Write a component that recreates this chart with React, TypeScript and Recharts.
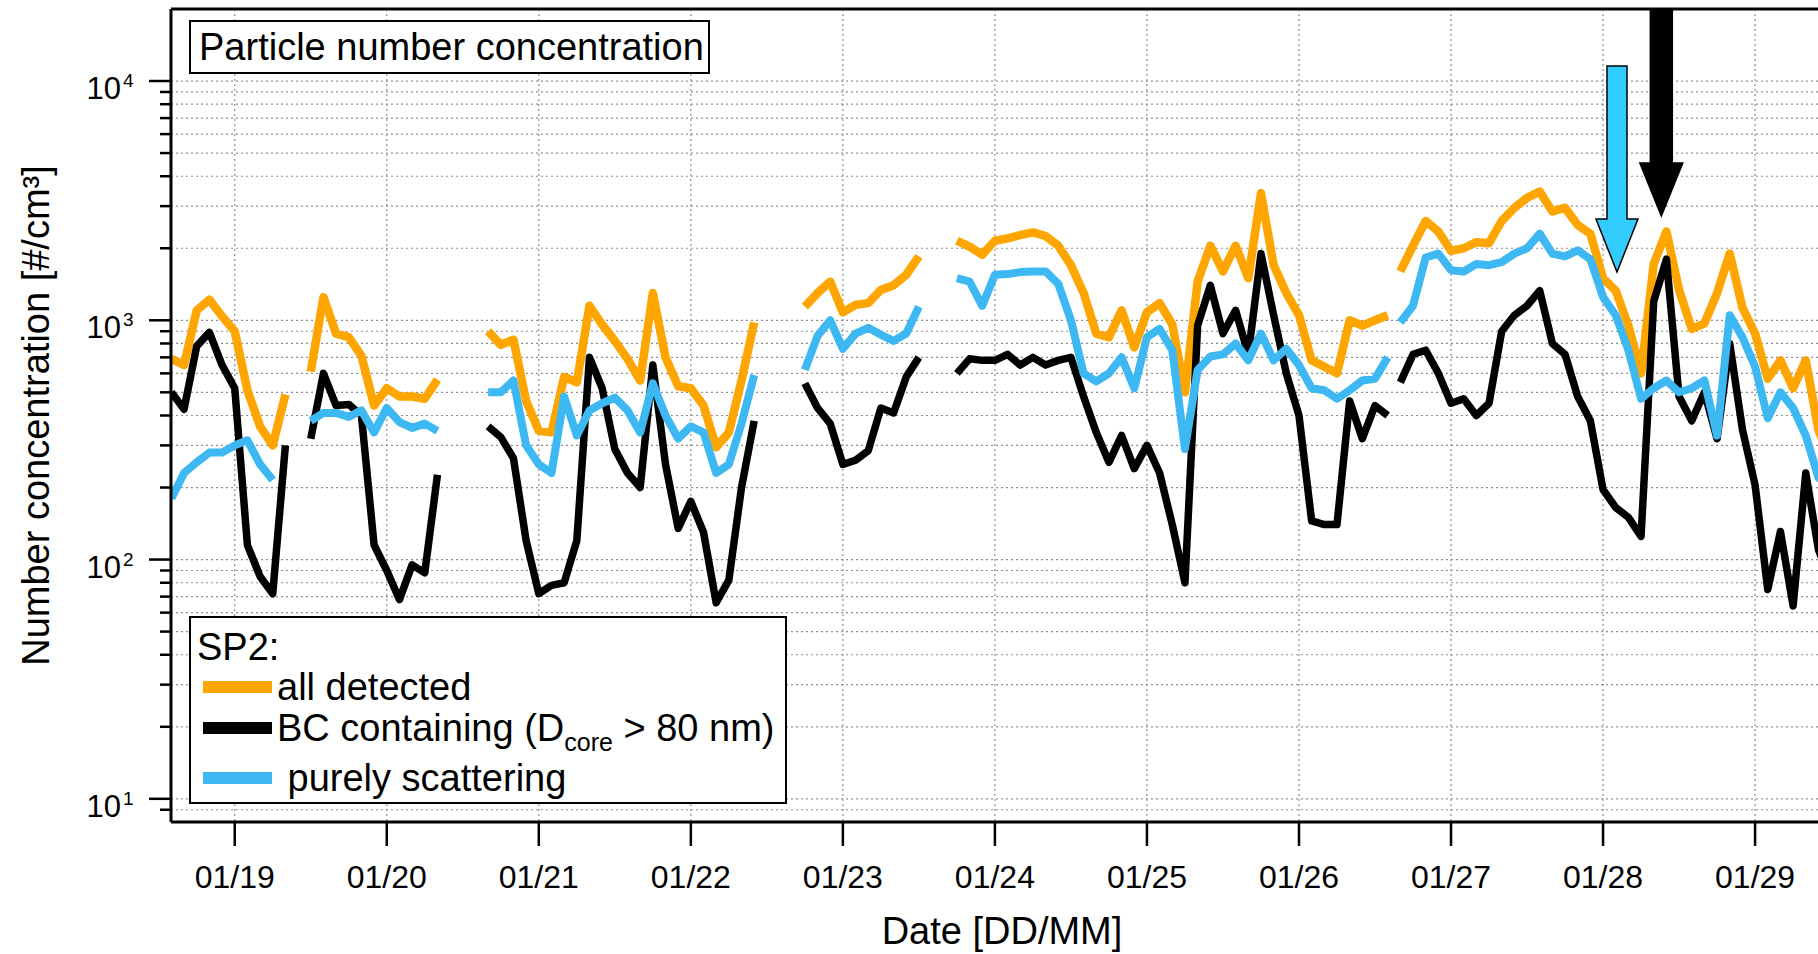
import { CartesianGrid, Line, LineChart, ReferenceDot, ReferenceLine, XAxis, YAxis } from "recharts";

const FONT = '"Liberation Sans", Arial, Helvetica, sans-serif';
const ORANGE = "#FFA500";
const BLACK = "#000000";
const BLUE = "#3DB8F2";
const ARROW_BLUE = "#33CCFF";

// hours since 18 Jan 00:00; a row of nulls marks each gap in the record
const HOURS = [
  14, 16, 18, 20, 22, 24, 26, 28, 30, 32, 34,
  36, 38, 40, 42, 44, 46, 48, 50, 52, 54, 56, 60,
  64, 66, 68, 70, 72, 74, 76, 78, 80, 82, 84, 86, 88, 90, 92, 94, 96, 98, 100, 102, 104, 106, 110,
  114, 116, 118, 120, 122, 124, 126, 128, 130, 132, 135,
  138, 140, 142, 144, 146, 148, 150, 152, 154, 156, 158, 160, 162, 164, 166, 168, 170, 172, 174, 176,
  178, 180, 182, 184, 186, 188, 190, 192, 194, 196, 198, 200, 202, 204, 206, 207,
  208, 210, 212, 214, 216, 218, 220, 222, 224, 226, 228, 230, 232, 234, 236, 238, 240, 242, 244, 246,
  248, 250, 252, 254, 256, 258, 260, 262, 264, 266, 268, 270, 272, 274, 276,
];

const ALL_DETECTED = [
  690, 650, 1100, 1220, 1040, 900, 510, 360, 300, 490, null,
  610, 1250, 880, 850, 710, 440, 520, 480, 480, 470, 565, null,
  900, 790, 830, 460, 345, 340, 580, 550, 1150, 960, 820, 690, 560, 1300, 700, 530, 520, 440, 295, 340, 560, 980, null,
  1140, 1300, 1450, 1080, 1160, 1180, 1340, 1400, 1550, 1850, null,
  2150, 2030, 1880, 2150, 2200, 2270, 2330, 2250, 2050, 1700, 1300, 880, 850, 1100, 770, 1080, 1180, 960, 500, 1450,
  2050, 1600, 2050, 1500, 3400, 1700, 1300, 1050, 680, 640, 600, 1000, 950, 1000, 1050, null,
  1600, 2050, 2600, 2350, 1950, 2000, 2120, 2100, 2600, 2950, 3250, 3450, 2850, 2950, 2500, 2300, 1500, 1330, 950, 600,
  1720, 2350, 1340, 920, 970, 1300, 1900, 1130, 880, 570, 680, 520, 680, 350, 250,
];

const BC_CONTAINING = [
  500, 425, 780, 890, 650, 520, 115, 85, 72, 300, null,
  320, 600, 440, 445, 400, 115, 90, 68, 95, 88, 226, null,
  360, 325, 265, 120, 72, 78, 80, 120, 700, 520, 290, 230, 200, 650, 250, 135, 175, 130, 66, 82, 200, 380, null,
  545, 430, 370, 250, 260, 285, 430, 410, 580, 700, null,
  600, 690, 680, 680, 720, 650, 700, 650, 680, 700, 480, 340, 255, 330, 240, 300, 230, 140, 80, 950,
  1400, 880, 1100, 720, 1900, 1050, 600, 400, 145, 140, 140, 460, 320, 440, 400, null,
  550, 720, 750, 600, 450, 470, 400, 450, 900, 1050, 1150, 1330, 800, 720, 480, 380, 196, 165, 150, 125,
  1200, 1800, 480, 380, 500, 320, 800, 350, 205, 75, 131, 64, 230, 110, 80,
];

const PURELY_SCATTERING = [
  180, 230, 255, 280, 280, 300, 315, 250, 215, null, null,
  380, 410, 410, 395, 420, 340, 430, 375, 355, 370, 345, null,
  500, 500, 560, 300, 250, 230, 480, 330, 420, 450, 475, 420, 340, 545, 400, 320, 360, 340, 230, 250, 370, 590, null,
  620, 860, 1000, 760, 880, 930, 870, 820, 880, 1140, null,
  1500, 1450, 1150, 1550, 1560, 1590, 1600, 1600, 1420, 1000, 600, 555, 600, 700, 520, 850, 920, 750, 290, 620,
  706, 720, 800, 680, 880, 680, 760, 650, 520, 510, 470, 510, 560, 570, 700, null,
  980, 1150, 1830, 1900, 1620, 1600, 1720, 1700, 1750, 1900, 2000, 2300, 1900, 1850, 1960, 1800, 1250, 1050, 750, 470,
  520, 560, 500, 520, 560, 330, 1050, 850, 640, 390, 500, 430, 330, 220, 200,
];

const DAY_TICKS = [24, 48, 72, 96, 120, 144, 168, 192, 216, 240, 264];
const Y_TICKS = [
  9, 10, 20, 30, 40, 50, 60, 70, 80, 90, 100, 200, 300, 400, 500, 600, 700, 800, 900,
  1000, 2000, 3000, 4000, 5000, 6000, 7000, 8000, 9000, 10000,
];

// arrow tips: [hour, concentration]
const BLUE_ARROW_TIP = [242.2, 1591];
const BLACK_ARROW_TIP = [249.2, 2728];

const rows = HOURS.map((h, i) => ({
  h,
  all: ALL_DETECTED[i],
  bc: BC_CONTAINING[i],
  scat: PURELY_SCATTERING[i],
}));

function YTick({ x, y, payload }: any) {
  const lg = Math.log10(payload.value);
  const exp = Math.round(lg);
  const major = Math.abs(lg - exp) < 1e-9;
  return (
    <g>
      <line x1={x - (major ? 22 : 11)} x2={x} y1={y} y2={y} stroke="#000" strokeWidth={2.5} />
      {major && (
        <>
          <text x={x - 50} y={y + 18} textAnchor="end" fontSize={31} fontFamily={FONT} fill="#000">
            10
          </text>
          <text x={x - 48} y={y + 6} fontSize={19} fontFamily={FONT} fill="#000">
            {exp}
          </text>
        </>
      )}
    </g>
  );
}

function XTick({ x, y, payload }: any) {
  const day = 18 + payload.value / 24;
  return (
    <g>
      <line x1={x} x2={x} y1={y} y2={y + 24} stroke="#000" strokeWidth={2.5} />
      <text x={x} y={y + 55} textAnchor="middle" dominantBaseline="central" fontSize={32} fontFamily={FONT} fill="#000">
        {`01/${day}`}
      </text>
    </g>
  );
}

function YTitle({ viewBox }: any) {
  const cx = viewBox.x + 36;
  const cy = viewBox.y + viewBox.height / 2;
  return (
    <text
      x={cx}
      y={cy}
      transform={`rotate(-90 ${cx} ${cy})`}
      textAnchor="middle"
      dominantBaseline="central"
      fontSize={38}
      fontFamily={FONT}
      fill="#000"
    >
      Number concentration [#/cm³]
    </text>
  );
}

function XTitle({ viewBox }: any) {
  return (
    <text
      x={viewBox.x + viewBox.width / 2}
      y={viewBox.y + 109}
      textAnchor="middle"
      dominantBaseline="central"
      fontSize={38}
      fontFamily={FONT}
      fill="#000"
    >
      Date [DD/MM]
    </text>
  );
}

function DownArrow({ cx, cy, fill, length, shaft, head, headLength }: any) {
  const top = cy - length;
  const neck = cy - headLength;
  const s = shaft / 2;
  const w = head / 2;
  const d = `M${cx - s},${top} L${cx + s},${top} L${cx + s},${neck} L${cx + w},${neck} L${cx},${cy} L${cx - w},${neck} L${cx - s},${neck} Z`;
  return <path d={d} fill={fill} stroke="#000" strokeWidth={1.5} />;
}

const swatch = (color: string) => (
  <div style={{ position: "absolute", left: 12, width: 69, height: 12, marginTop: -6, top: "50%", background: color }} />
);

function LegendBox() {
  const row = (center: number): React.CSSProperties => ({
    position: "absolute",
    left: 0,
    right: 0,
    top: center - 25,
    height: 50,
    display: "flex",
    alignItems: "center",
  });
  return (
    <div
      style={{
        position: "absolute",
        left: 189,
        top: 616,
        width: 598,
        height: 188,
        boxSizing: "border-box",
        border: "2px solid #000",
        background: "#fff",
        fontSize: 38,
        color: "#000",
        whiteSpace: "pre",
      }}
    >
      <div style={{ ...row(29), paddingLeft: 6 }}>SP2:</div>
      <div style={row(69)}>
        {swatch(ORANGE)}
        <span style={{ marginLeft: 86 }}>all detected</span>
      </div>
      <div style={row(110)}>
        {swatch(BLACK)}
        <span style={{ marginLeft: 86 }}>
          BC containing (D<span style={{ fontSize: 25, position: "relative", top: 10 }}>core</span> &gt; 80 nm)
        </span>
      </div>
      <div style={row(160)}>
        {swatch(BLUE)}
        <span style={{ marginLeft: 86 }}> purely scattering</span>
      </div>
    </div>
  );
}

export default function App() {
  return (
    <div
      style={{
        position: "fixed",
        left: 0,
        top: 0,
        width: 1818,
        height: 954,
        overflow: "hidden",
        background: "#fff",
        fontFamily: FONT,
      }}
    >
      <div style={{ position: "relative", width: 1840, height: 954 }}>
        <LineChart width={1840} height={954} data={rows} margin={{ top: 9, right: 7, bottom: 0, left: 0 }}>
          <CartesianGrid stroke="#8f8f8f" strokeWidth={1.2} strokeDasharray="2 3" />
          <XAxis
            dataKey="h"
            type="number"
            domain={[13.94, 276.3]}
            allowDataOverflow
            ticks={DAY_TICKS}
            interval={0}
            height={132}
            tickSize={0}
            tickMargin={0}
            tickLine={false}
            axisLine={{ stroke: "#000", strokeWidth: 3 }}
            tick={(p: any) => <XTick {...p} />}
            label={<XTitle />}
          />
          <YAxis
            type="number"
            scale="log"
            domain={[8, 20000]}
            allowDataOverflow
            ticks={Y_TICKS}
            interval={0}
            width={171}
            tickSize={0}
            tickMargin={0}
            tickLine={false}
            axisLine={{ stroke: "#000", strokeWidth: 3 }}
            tick={(p: any) => <YTick {...p} />}
            label={<YTitle />}
          />
          <ReferenceLine y={20000} stroke="#000" strokeWidth={3} />
          <Line dataKey="all" name="all detected" stroke={ORANGE} strokeWidth={8.5} strokeLinejoin="round" dot={false} activeDot={false} isAnimationActive={false} />
          <Line dataKey="bc" name="BC containing" stroke={BLACK} strokeWidth={7.5} strokeLinejoin="round" dot={false} activeDot={false} isAnimationActive={false} />
          <Line dataKey="scat" name="purely scattering" stroke={BLUE} strokeWidth={8} strokeLinejoin="round" dot={false} activeDot={false} isAnimationActive={false} />
          <ReferenceDot
            x={BLUE_ARROW_TIP[0]}
            y={BLUE_ARROW_TIP[1]}
            ifOverflow="visible"
            shape={(p: any) => <DownArrow cx={p.cx} cy={p.cy} fill={ARROW_BLUE} length={206} shaft={20} head={42} headLength={53} />}
          />
          <ReferenceDot
            x={BLACK_ARROW_TIP[0]}
            y={BLACK_ARROW_TIP[1]}
            ifOverflow="visible"
            shape={(p: any) => <DownArrow cx={p.cx} cy={p.cy} fill={BLACK} length={207} shaft={22} head={43} headLength={53} />}
          />
        </LineChart>
        <div
          style={{
            position: "absolute",
            left: 189,
            top: 20,
            width: 521,
            height: 54,
            boxSizing: "border-box",
            border: "2px solid #000",
            background: "#fff",
            fontSize: 38,
            lineHeight: "50px",
            paddingLeft: 8,
            color: "#000",
            whiteSpace: "nowrap",
          }}
        >
          Particle number concentration
        </div>
        <LegendBox />
      </div>
    </div>
  );
}
